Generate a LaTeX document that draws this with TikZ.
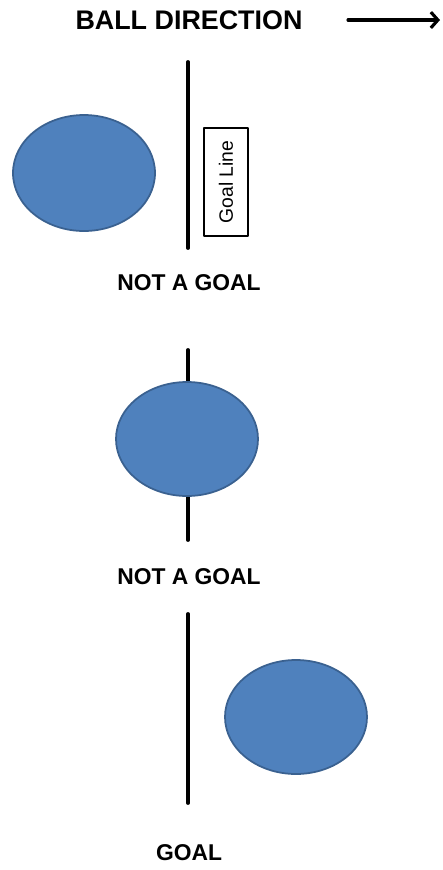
\documentclass[tikz,border=0pt]{standalone}
\usepackage{fontspec}
\setmainfont{Liberation Sans}
\usetikzlibrary{arrows.meta}
\definecolor{ballblue}{HTML}{4F81BD}
\definecolor{balledge}{HTML}{3A6190}
\begin{document}
\begin{tikzpicture}[x=0.02cm, y=-0.02cm, font=\bfseries\fontsize{13}{15}\selectfont, line join=round, line cap=round, >={Straight Barb[length=4pt,width=9pt]}]
	\useasboundingbox (0,0) rectangle (443,870);
	\tikzset{ball/.style={fill=ballblue, draw=balledge, line width=1pt},
		goalline/.style={line width=2.2pt}}
	\node[font=\bfseries\fontsize{15.3}{17}\selectfont] (T) at (189,20) {BALL DIRECTION};
	\coordinate (A1) at (348,20);
	\coordinate (A2) at (440,20);
	\draw[->, line width=1.8pt] (A1)--(A2);
	% Bóng 1
	\coordinate (P1) at (188,62);
	\coordinate (Q1) at (188,248);
	\draw[goalline] (P1)--(Q1);
	\filldraw[ball] (84,173) ellipse (71 and 58);
	\node[draw, line width=0.8pt, minimum width=108*0.02cm, minimum height=44*0.02cm, inner sep=0pt, font=\fontsize{11}{12}\selectfont, rotate=90] (L) at (226,182) {Goal Line};
	\node (N1) at (189,283) {NOT A GOAL};
	% Bóng 2
	\coordinate (P2) at (188,350);
	\coordinate (Q2) at (188,540);
	\draw[goalline] (P2)--(Q2);
	\filldraw[ball] (187,439) ellipse (71 and 57);
	\node (N2) at (189,577) {NOT A GOAL};
	% Bóng 3
	\coordinate (P3) at (188,614);
	\coordinate (Q3) at (188,803);
	\draw[goalline] (P3)--(Q3);
	\filldraw[ball] (296,717) ellipse (71 and 57);
	\node (N3) at (189,853) {GOAL};
\end{tikzpicture}
\end{document}
